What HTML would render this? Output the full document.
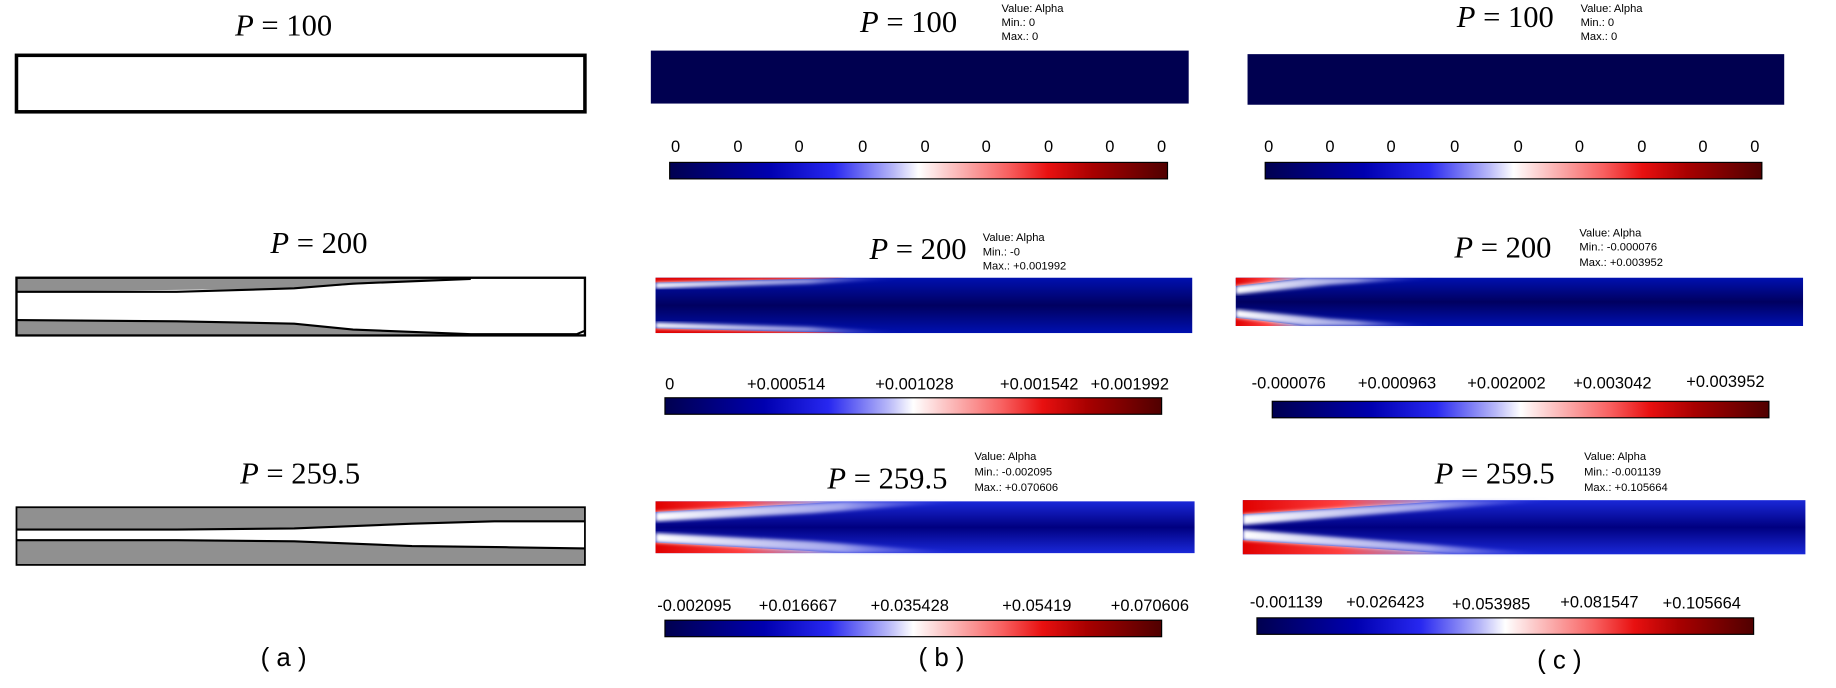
<!DOCTYPE html>
<html><head><meta charset="utf-8"><style>
html,body{margin:0;padding:0;background:#fff;width:1836px;height:688px;overflow:hidden}
svg{display:block}
.t{font-family:"Liberation Serif",serif;font-size:26px}
.an{font-family:"Liberation Sans",sans-serif;font-size:9.5px}
.lb{font-family:"Liberation Sans",sans-serif;font-size:14px}
.cap{font-family:"Liberation Sans",sans-serif;font-size:22px}
</style></head><body>
<svg width="1836" height="688" viewBox="0 0 1560 584.6" preserveAspectRatio="none" xmlns="http://www.w3.org/2000/svg">
<defs>
<linearGradient id="cm" x1="0" x2="1" y1="0" y2="0">
<stop offset="0" stop-color="#000050"/><stop offset="0.2" stop-color="#0000b0"/><stop offset="0.33" stop-color="#2828f0"/>
<stop offset="0.45" stop-color="#b8b8f8"/><stop offset="0.5" stop-color="#ffffff"/><stop offset="0.56" stop-color="#fcc8c8"/>
<stop offset="0.68" stop-color="#f86060"/><stop offset="0.76" stop-color="#e81010"/><stop offset="0.85" stop-color="#a80000"/>
<stop offset="1" stop-color="#500000"/></linearGradient>
<linearGradient id="v2" x1="0" x2="0" y1="0" y2="1"><stop offset="0" stop-color="#0010b0"/><stop offset="0.5" stop-color="#000060"/><stop offset="1" stop-color="#0010b0"/></linearGradient>
<linearGradient id="v3" x1="0" x2="0" y1="0" y2="1"><stop offset="0" stop-color="#1a28d8"/><stop offset="0.5" stop-color="#000080"/><stop offset="1" stop-color="#1a28d8"/></linearGradient>
<linearGradient id="rf" x1="0" x2="1" y1="0" y2="0"><stop offset="0" stop-color="#e00000"/><stop offset="0.45" stop-color="#ff4040"/><stop offset="0.8" stop-color="#ffb0b0" stop-opacity="0.6"/><stop offset="1" stop-color="#ffffff" stop-opacity="0"/></linearGradient>
<linearGradient id="wf" x1="0" x2="1" y1="0" y2="0"><stop offset="0" stop-color="#ffffff"/><stop offset="0.6" stop-color="#e0e0ff" stop-opacity="0.7"/><stop offset="1" stop-color="#8080ff" stop-opacity="0"/></linearGradient>
<filter id="bl"><feGaussianBlur stdDeviation="1.5"/></filter>
</defs>

<!-- column a -->
<text class="t" x="241" y="30" text-anchor="middle"><tspan font-style="italic">P</tspan> = 100</text>
<rect x="14" y="47" width="483" height="48" fill="#fff" stroke="#000" stroke-width="3"/>
<text class="t" x="271" y="215" text-anchor="middle"><tspan font-style="italic">P</tspan> = 200</text>
<rect x="14" y="236" width="483" height="49" fill="#fff"/>
<polygon points="14,236 400,236 250,245 14,248" fill="#909090"/>
<polyline points="14,248 150,248 250,245 300,241 400,237" fill="none" stroke="#000" stroke-width="1.8"/>
<polygon points="14,272 150,273 250,275 300,280 400,284 14,284" fill="#909090"/>
<polyline points="14,272 150,273 250,275 300,280 400,284 490,284 497,281" fill="none" stroke="#000" stroke-width="1.8"/>
<rect x="14" y="236" width="483" height="49" fill="none" stroke="#000" stroke-width="2"/>
<text class="t" x="255" y="411" text-anchor="middle"><tspan font-style="italic">P</tspan> = 259.5</text>
<rect x="14" y="431" width="483" height="49" fill="#909090"/>
<polygon points="14,450 150,450 250,449 350,445 420,443 497,443 497,466 430,465 350,464 250,460 150,459 14,459" fill="#fff"/>
<polyline points="14,450 150,450 250,449 350,445 420,443 497,443" fill="none" stroke="#000" stroke-width="1.8"/>
<polyline points="14,459 150,459 250,460 350,464 430,465 497,466" fill="none" stroke="#000" stroke-width="1.8"/>
<rect x="14" y="431" width="483" height="49" fill="none" stroke="#000" stroke-width="1.5"/>
<text class="cap" x="241" y="566" text-anchor="middle">( a )</text>

<!-- column b -->
<text class="t" x="772" y="27" text-anchor="middle"><tspan font-style="italic">P</tspan> = 100</text>
<text class="an" x="851" y="10">Value: Alpha</text><text class="an" x="851" y="22">Min.: 0</text><text class="an" x="851" y="34">Max.: 0</text>
<rect x="553" y="43" width="457" height="45" fill="#000050"/>
<g class="lb" text-anchor="middle"><text x="574" y="129">0</text><text x="627" y="129">0</text><text x="679" y="129">0</text><text x="733" y="129">0</text><text x="786" y="129">0</text><text x="838" y="129">0</text><text x="891" y="129">0</text><text x="943" y="129">0</text><text x="987" y="129">0</text></g>
<rect x="569" y="138" width="423" height="14" fill="url(#cm)" stroke="#000" stroke-width="1"/>

<text class="t" x="780" y="220" text-anchor="middle"><tspan font-style="italic">P</tspan> = 200</text>
<text class="an" x="835" y="205">Value: Alpha</text><text class="an" x="835" y="217">Min.: -0</text><text class="an" x="835" y="229">Max.: +0.001992</text>
<rect x="557" y="236" width="456" height="47" fill="url(#v2)"/>
<polygon points="557,236 720,236 557,240" fill="#e00000"/>
<polygon points="557,240 720,236 770,236 690,241 557,245" fill="url(#wf)" filter="url(#bl)"/>
<polygon points="557,283 720,283 557,279" fill="#e00000"/>
<polygon points="557,279 720,283 770,283 690,278 557,274" fill="url(#wf)" filter="url(#bl)"/>
<g class="lb" text-anchor="middle"><text x="569" y="331">0</text><text x="668" y="331">+0.000514</text><text x="777" y="331">+0.001028</text><text x="883" y="331">+0.001542</text><text x="960" y="331">+0.001992</text></g>
<rect x="565" y="338" width="422" height="14" fill="url(#cm)" stroke="#000" stroke-width="1"/>

<text class="t" x="754" y="415" text-anchor="middle"><tspan font-style="italic">P</tspan> = 259.5</text>
<text class="an" x="828" y="391">Value: Alpha</text><text class="an" x="828" y="404">Min.: -0.002095</text><text class="an" x="828" y="417">Max.: +0.070606</text>
<rect x="557" y="426" width="458" height="44" fill="url(#v3)"/>
<polygon points="557,426 720,426 557,435" fill="url(#rf)"/>
<polygon points="557,435 720,426 820,426 690,436 557,443" fill="url(#wf)" filter="url(#bl)"/>
<polygon points="557,470 720,470 557,461" fill="url(#rf)"/>
<polygon points="557,461 720,470 820,470 690,460 557,453" fill="url(#wf)" filter="url(#bl)"/>
<g class="lb" text-anchor="middle"><text x="590" y="519">-0.002095</text><text x="678" y="519">+0.016667</text><text x="773" y="519">+0.035428</text><text x="881" y="519">+0.05419</text><text x="977" y="519">+0.070606</text></g>
<rect x="565" y="527" width="422" height="14" fill="url(#cm)" stroke="#000" stroke-width="1"/>
<text class="cap" x="800" y="566" text-anchor="middle">( b )</text>

<!-- column c -->
<text class="t" x="1279" y="23" text-anchor="middle"><tspan font-style="italic">P</tspan> = 100</text>
<text class="an" x="1343" y="10">Value: Alpha</text><text class="an" x="1343" y="22">Min.: 0</text><text class="an" x="1343" y="34">Max.: 0</text>
<rect x="1060" y="46" width="456" height="43" fill="#000050"/>
<g class="lb" text-anchor="middle"><text x="1078" y="129">0</text><text x="1130" y="129">0</text><text x="1182" y="129">0</text><text x="1236" y="129">0</text><text x="1290" y="129">0</text><text x="1342" y="129">0</text><text x="1395" y="129">0</text><text x="1447" y="129">0</text><text x="1491" y="129">0</text></g>
<rect x="1075" y="138" width="422" height="14" fill="url(#cm)" stroke="#000" stroke-width="1"/>

<text class="t" x="1277" y="219" text-anchor="middle"><tspan font-style="italic">P</tspan> = 200</text>
<text class="an" x="1342" y="201">Value: Alpha</text><text class="an" x="1342" y="213">Min.: -0.000076</text><text class="an" x="1342" y="226">Max.: +0.003952</text>
<rect x="1050" y="236" width="482" height="41" fill="url(#v2)"/>
<polygon points="1050,236 1110,236 1050,243" fill="url(#rf)"/>
<polygon points="1050,243 1110,236 1220,236 1130,242 1050,250" fill="url(#wf)" filter="url(#bl)"/>
<polygon points="1050,277 1110,277 1050,270" fill="url(#rf)"/>
<polygon points="1050,270 1110,277 1220,277 1130,271 1050,263" fill="url(#wf)" filter="url(#bl)"/>
<g class="lb" text-anchor="middle"><text x="1095" y="330">-0.000076</text><text x="1187" y="330">+0.000963</text><text x="1280" y="330">+0.002002</text><text x="1370" y="330">+0.003042</text><text x="1466" y="329">+0.003952</text></g>
<rect x="1081" y="341" width="422" height="14" fill="url(#cm)" stroke="#000" stroke-width="1"/>

<text class="t" x="1270" y="411" text-anchor="middle"><tspan font-style="italic">P</tspan> = 259.5</text>
<text class="an" x="1346" y="391">Value: Alpha</text><text class="an" x="1346" y="404">Min.: -0.001139</text><text class="an" x="1346" y="417">Max.: +0.105664</text>
<rect x="1056" y="425" width="478" height="46" fill="url(#v3)"/>
<polygon points="1056,425 1240,425 1056,437" fill="url(#rf)"/>
<polygon points="1056,437 1240,425 1320,425 1180,436 1056,446" fill="url(#wf)" filter="url(#bl)"/>
<polygon points="1056,471 1240,471 1056,459" fill="url(#rf)"/>
<polygon points="1056,459 1240,471 1320,471 1180,460 1056,450" fill="url(#wf)" filter="url(#bl)"/>
<g class="lb" text-anchor="middle"><text x="1093" y="516">-0.001139</text><text x="1177" y="516">+0.026423</text><text x="1267" y="518">+0.053985</text><text x="1359" y="516">+0.081547</text><text x="1446" y="517">+0.105664</text></g>
<rect x="1068" y="525" width="422" height="14" fill="url(#cm)" stroke="#000" stroke-width="1"/>
<text class="cap" x="1325" y="568" text-anchor="middle">( c )</text>
</svg>
</body></html>
